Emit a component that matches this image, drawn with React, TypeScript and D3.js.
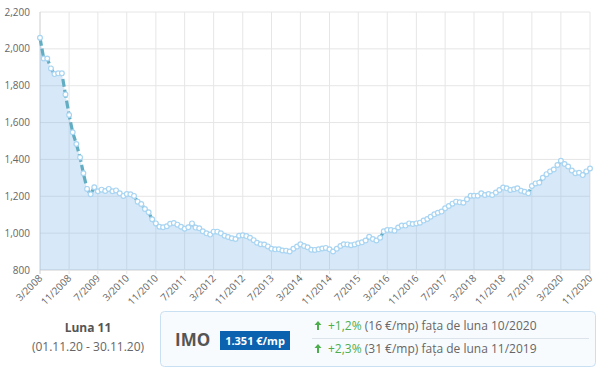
import React, { useEffect, useRef } from "react";
import * as d3 from "d3";

// monthly price index, 3/2008 .. 11/2020 (€/mp)
const startYear = 2008;
const startMonth = 3;
const prices: number[] = [
  2060, 1948, 1948, 1894, 1863, 1867, 1867, 1753, 1641, 1547, 1484, 1411, 1325,
  1240, 1211, 1249, 1227, 1236, 1229, 1240, 1227, 1232, 1216, 1202, 1212, 1211,
  1202, 1171, 1158, 1131, 1113, 1075, 1053, 1035, 1032, 1037, 1051, 1055, 1046,
  1035, 1024, 1032, 1053, 1030, 1026, 1010, 999, 992, 1008, 1008, 999, 986, 979,
  972, 968, 986, 988, 984, 975, 962, 948, 940, 938, 928, 915, 912, 912, 906, 905,
  900, 915, 927, 940, 930, 923, 910, 909, 912, 917, 920, 912, 900, 915, 930, 940,
  939, 934, 939, 945, 950, 960, 980, 968, 960, 975, 1010, 1017, 1017, 1013, 1031,
  1041, 1041, 1053, 1050, 1053, 1057, 1068, 1077, 1089, 1102, 1111, 1117, 1135,
  1147, 1160, 1171, 1167, 1165, 1184, 1203, 1203, 1203, 1216, 1207, 1212, 1207,
  1220, 1234, 1247, 1243, 1234, 1238, 1243, 1230, 1225, 1216, 1256, 1270, 1274,
  1300, 1320, 1335, 1345, 1370, 1393, 1375, 1361, 1340, 1325, 1328, 1315, 1335,
  1351,
];

const xTickLabels = [
  "3/2008", "11/2008", "7/2009", "3/2010", "11/2010", "7/2011", "3/2012",
  "11/2012", "7/2013", "3/2014", "11/2014", "7/2015", "3/2016", "11/2016",
  "7/2017", "3/2018", "11/2018", "7/2019", "3/2020", "11/2020",
];
const yTicks = [800, 1000, 1200, 1400, 1600, 1800, 2000, 2200];

const periodTitle = "Luna 11";
const periodRange = "(01.11.20 - 30.11.20)";
const indexName = "IMO";
const indexValue = "1.351 €/mp";
const changes = [
  { pct: "+1,2%", rest: " (16 €/mp) fața de luna 10/2020" },
  { pct: "+2,3%", rest: " (31 €/mp) fața de luna 11/2019" },
];

const App: React.FC = () => {
  const svgRef = useRef<SVGSVGElement | null>(null);

  useEffect(() => {
    const width = 600;
    const height = 371;
    const marginLeft = 40;
    const marginRight = 10;
    const marginTop = 12;
    const plotBottom = 270;
    const font = "'Open Sans', sans-serif";

    const svg = d3.select(svgRef.current);
    svg.selectAll("*").remove();
    svg.attr("viewBox", [0, 0, width, height]);

    const dates = prices.map((_, i) => new Date(startYear, startMonth - 1 + i, 1));
    const parseLabel = (s: string) => {
      const [m, y] = s.split("/").map(Number);
      return new Date(y, m - 1, 1);
    };

    const x = d3
      .scaleTime()
      .domain([dates[0], dates[dates.length - 1]])
      .range([marginLeft, width - marginRight]);
    const y = d3.scaleLinear().domain([800, 2200]).range([plotBottom, marginTop]);

    // grid
    const grid = svg.append("g");
    grid
      .selectAll(".hg")
      .data(yTicks)
      .enter()
      .append("line")
      .attr("x1", marginLeft)
      .attr("x2", width - marginRight)
      .attr("y1", (d) => y(d))
      .attr("y2", (d) => y(d))
      .attr("stroke", (d) => (d === 800 ? "#d0d0d0" : "#e6e6e6"))
      .attr("stroke-width", 1);
    grid
      .selectAll(".vg")
      .data(xTickLabels)
      .enter()
      .append("line")
      .attr("x1", (d) => x(parseLabel(d)))
      .attr("x2", (d) => x(parseLabel(d)))
      .attr("y1", marginTop)
      .attr("y2", plotBottom + 4)
      .attr("stroke", (d, i) => (i === 0 ? "#cccccc" : "#e6e6e6"))
      .attr("stroke-width", 1);

    // area
    const area = d3
      .area<number>()
      .x((_, i) => x(dates[i]))
      .y0(y(800))
      .y1((d) => y(d));
    svg
      .append("path")
      .datum(prices)
      .attr("d", area)
      .attr("fill", "rgba(124,181,236,0.3)");

    const line = d3
      .line<number>()
      .x((_, i) => x(dates[i]))
      .y((d) => y(d));
    svg
      .append("path")
      .datum(prices)
      .attr("d", line)
      .attr("fill", "none")
      .attr("stroke", "#62adc2")
      .attr("stroke-width", 3.2)
      .attr("stroke-dasharray", "8,3");

    svg
      .append("g")
      .selectAll("circle")
      .data(prices)
      .enter()
      .append("circle")
      .attr("cx", (_, i) => x(dates[i]))
      .attr("cy", (d) => y(d))
      .attr("r", 2.4)
      .attr("fill", "#ffffff")
      .attr("stroke", "#a9d5f2")
      .attr("stroke-width", 1.2);

    // y labels
    svg
      .append("g")
      .selectAll("text")
      .data(yTicks)
      .enter()
      .append("text")
      .attr("x", 30)
      .attr("y", (d) => y(d))
      .attr("dy", "0.35em")
      .attr("text-anchor", "end")
      .attr("font-family", font)
      .attr("font-size", 10)
      .attr("fill", "#666")
      .text((d) => d3.format(",")(d));

    // x labels
    svg
      .append("g")
      .selectAll("text")
      .data(xTickLabels)
      .enter()
      .append("text")
      .attr("transform", (d) => `translate(${x(parseLabel(d)) + 3},${plotBottom + 9}) rotate(-45)`)
      .attr("text-anchor", "end")
      .attr("font-family", font)
      .attr("font-size", 10)
      .attr("fill", "#666")
      .text((d) => d);

    // bottom panel
    const panel = svg.append("g").attr("font-family", font);
    panel
      .append("text")
      .attr("x", 88)
      .attr("y", 332)
      .attr("text-anchor", "middle")
      .attr("font-size", 12)
      .attr("font-weight", "bold")
      .attr("fill", "#555")
      .text(periodTitle);
    panel
      .append("text")
      .attr("x", 88)
      .attr("y", 351)
      .attr("text-anchor", "middle")
      .attr("font-size", 12)
      .attr("fill", "#666")
      .text(periodRange);

    panel
      .append("rect")
      .attr("x", 160.5)
      .attr("y", 311.5)
      .attr("width", 435)
      .attr("height", 55)
      .attr("rx", 4)
      .attr("fill", "#f8fbfe")
      .attr("stroke", "#c9dff2");
    panel
      .append("text")
      .attr("x", 175)
      .attr("y", 346)
      .attr("font-size", 17)
      .attr("font-weight", "bold")
      .attr("fill", "#555")
      .text(indexName);
    panel
      .append("rect")
      .attr("x", 220)
      .attr("y", 331)
      .attr("width", 70)
      .attr("height", 19)
      .attr("fill", "#0b63b0");
    panel
      .append("text")
      .attr("x", 255)
      .attr("y", 344.5)
      .attr("text-anchor", "middle")
      .attr("font-size", 11)
      .attr("font-weight", "bold")
      .attr("fill", "#fff")
      .text(indexValue);

    panel
      .append("line")
      .attr("x1", 312)
      .attr("x2", 589)
      .attr("y1", 338.5)
      .attr("y2", 338.5)
      .attr("stroke", "#dde3ea");

    changes.forEach((c, i) => {
      const by = 330 + i * 23;
      // green up arrow
      panel
        .append("path")
        .attr(
          "d",
          `M${318},${by - 9} L${321.5},${by - 5} L${319},${by - 5} L${319},${by} L${317},${by} L${317},${by - 5} L${314.5},${by - 5} Z`,
        )
        .attr("fill", "#4cae4c");
      const t = panel
        .append("text")
        .attr("x", 328)
        .attr("y", by)
        .attr("font-size", 12);
      t.append("tspan").attr("fill", "#4cae4c").text(c.pct);
      t.append("tspan").attr("fill", "#666").text(c.rest);
    });
  }, []);

  return (
    <div style={{ position: "absolute", left: 0, top: 0, width: 600, height: 371, background: "#fff" }}>
      <svg ref={svgRef} width={600} height={371}></svg>
    </div>
  );
};

export default App;
